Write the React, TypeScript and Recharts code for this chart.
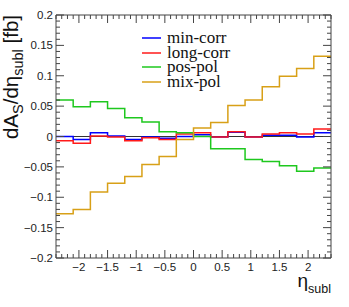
import { ComposedChart, Line, XAxis, YAxis, ReferenceLine, Legend } from "recharts";

// bin edges in eta_subl, 16 bins of 0.3
const binEdges = [-2.4, -2.1, -1.8, -1.5, -1.2, -0.9, -0.6, -0.3, 0, 0.3, 0.6, 0.9, 1.2, 1.5, 1.8, 2.1, 2.4];

// bin contents, dA_S/deta [fb]
const minCorr = [0.0, -0.005, 0.006, 0.001, -0.005, -0.001, -0.003, 0.0, 0.003, -0.001, 0.007, -0.001, 0.002, 0.002, -0.001, 0.006];
const longCorr = [-0.007, -0.011, 0.001, -0.001, -0.007, -0.002, -0.005, 0.004, 0.006, -0.001, 0.008, -0.001, 0.004, 0.006, 0.004, 0.0125];
const posPol = [0.06, 0.049, 0.057, 0.046, 0.031, 0.024, 0.008, 0.006, 0.0, -0.02, -0.02, -0.038, -0.041, -0.048, -0.057, -0.052];
const mixPol = [-0.127, -0.12, -0.0915, -0.077, -0.066, -0.046, -0.033, -0.005, 0.014, 0.023, 0.051, 0.06, 0.082, 0.099, 0.112, 0.132];

const seriesNames = ["min-corr", "long-corr", "pos-pol", "mix-pol"];
const seriesKeys = ["minCorr", "longCorr", "posPol", "mixPol"];
const seriesColors = ["#0000ff", "#ff1a1a", "#1ec81e", "#d8a017"];

const xMajorTicks = [-2, -1.5, -1, -0.5, 0, 0.5, 1, 1.5, 2];
const yMajorTicks = [-0.2, -0.15, -0.1, -0.05, 0, 0.05, 0.1, 0.15, 0.2];

// minor tick grids (0.1 on x, 0.01 on y)
const xTicks: number[] = [];
for (let i = 0; i <= 48; i++) xTicks.push(Math.round((-2.4 + i * 0.1) * 10) / 10);
const yTicks: number[] = [];
for (let i = 0; i <= 40; i++) yTicks.push(Math.round((-0.2 + i * 0.01) * 100) / 100);

// last edge repeats the last bin so stepAfter closes the histogram
const data = binEdges.map((x, i) => {
  const j = Math.min(i, 15);
  return { x, minCorr: minCorr[j], longCorr: longCorr[j], posPol: posPol[j], mixPol: mixPol[j] };
});

const frame = "#444";
const labelFont = "'Liberation Sans', Arial, sans-serif";

const isIn = (list: number[], v: number) => list.some((t) => Math.abs(t - v) < 1e-6);
const fmt = (v: number) => {
  const r = Math.round(v * 1000) / 1000;
  if (r === 0) return "0";
  return (r < 0 ? "\u2212" : "") + String(Math.abs(r));
};

function BottomTick(props: any) {
  const { x, y, payload } = props;
  const major = isIn(xMajorTicks, payload.value);
  return (
    <g>
      <line x1={x} y1={y} x2={x} y2={y - (major ? 8 : 4)} stroke={frame} />
      {major && (
        <text x={x} y={y + 13} textAnchor="middle" fontSize={11.5} fontFamily={labelFont} fill="#222">
          {fmt(payload.value)}
        </text>
      )}
    </g>
  );
}

function TopTick(props: any) {
  const { x, y, payload } = props;
  const major = isIn(xMajorTicks, payload.value);
  return <line x1={x} y1={y} x2={x} y2={y + (major ? 8 : 4)} stroke={frame} />;
}

function LeftTick(props: any) {
  const { x, y, payload } = props;
  const major = isIn(yMajorTicks, payload.value);
  return (
    <g>
      <line x1={x} y1={y} x2={x + (major ? 8 : 4)} y2={y} stroke={frame} />
      {major && (
        <text x={x - 3} y={y + 4} textAnchor="end" fontSize={11.5} fontFamily={labelFont} fill="#222">
          {fmt(payload.value)}
        </text>
      )}
    </g>
  );
}

function RightTick(props: any) {
  const { x, y, payload } = props;
  const major = isIn(yMajorTicks, payload.value);
  return <line x1={x} y1={y} x2={x - (major ? 8 : 4)} y2={y} stroke={frame} />;
}

function YTitle(props: any) {
  const top = props.viewBox ? props.viewBox.y : 15;
  return (
    <text transform={`translate(18,${top}) rotate(-90)`} textAnchor="end" fontSize={20.5} fontFamily={labelFont} fill="#111">
      dA<tspan dy={5} fontSize={14.5}>S</tspan>
      <tspan dy={-5}>/d{"\u03b7"}</tspan>
      <tspan dy={5} fontSize={14.5}>subl</tspan>
      <tspan dy={-5}> [fb]</tspan>
    </text>
  );
}

function XTitle(props: any) {
  const vb = props.viewBox;
  const right = vb ? vb.x + vb.width : 331;
  return (
    <text x={right} y={287} textAnchor="end" fontSize={19} fontFamily={labelFont} fill="#111">
      {"\u03b7"}
      <tspan dy={6} fontSize={12.5}>subl</tspan>
    </text>
  );
}

function LegendBox() {
  return (
    <div style={{ fontFamily: "'Liberation Serif', 'Times New Roman', serif", fontSize: 17, color: "#111" }}>
      {seriesNames.map((name, i) => (
        <div key={name} style={{ display: "flex", alignItems: "center", height: 14.5 }}>
          <svg width={22} height={4} style={{ marginRight: 3 }}>
            <line x1={0} y1={2} x2={19} y2={2} stroke={seriesColors[i]} strokeWidth={1.5} />
          </svg>
          <span style={{ lineHeight: "14.5px" }}>{name}</span>
        </div>
      ))}
    </div>
  );
}

export default function App() {
  return (
    <div style={{ position: "absolute", left: 0, top: 0, width: 349, height: 307, background: "#fff" }}>
      <ComposedChart width={349} height={307} data={data} margin={{ top: 14, right: 17, bottom: 48, left: 55 }}>
        <XAxis
          xAxisId="b"
          type="number"
          dataKey="x"
          domain={[-2.4, 2.4]}
          allowDataOverflow
          ticks={xTicks}
          interval={0}
          height={1}
          tickSize={0}
          tickMargin={0}
          tick={<BottomTick />}
          axisLine={{ stroke: frame }}
          label={<XTitle />}
        />
        <XAxis
          xAxisId="t"
          orientation="top"
          type="number"
          dataKey="x"
          domain={[-2.4, 2.4]}
          allowDataOverflow
          ticks={xTicks}
          interval={0}
          height={1}
          tickSize={0}
          tickMargin={0}
          tick={<TopTick />}
          axisLine={{ stroke: frame }}
        />
        <YAxis
          yAxisId="l"
          type="number"
          domain={[-0.2, 0.2]}
          allowDataOverflow
          ticks={yTicks}
          interval={0}
          width={1}
          tickSize={0}
          tickMargin={0}
          tick={<LeftTick />}
          axisLine={{ stroke: frame }}
          label={<YTitle />}
        />
        <YAxis
          yAxisId="r"
          orientation="right"
          type="number"
          domain={[-0.2, 0.2]}
          allowDataOverflow
          ticks={yTicks}
          interval={0}
          width={1}
          tickSize={0}
          tickMargin={0}
          tick={<RightTick />}
          axisLine={{ stroke: frame }}
        />
        <ReferenceLine xAxisId="b" yAxisId="l" y={0} stroke="#333" strokeWidth={1} />
        {seriesKeys.map((key, i) => (
          <Line
            key={key}
            xAxisId="b"
            yAxisId="l"
            type="stepAfter"
            dataKey={key}
            name={seriesNames[i]}
            stroke={seriesColors[i]}
            strokeWidth={1.5}
            dot={false}
            isAnimationActive={false}
          />
        ))}
        <Legend
          layout="vertical"
          align="center"
          verticalAlign="middle"
          content={<LegendBox />}
          wrapperStyle={{ position: "absolute", left: 142, top: 31, width: 110 }}
        />
      </ComposedChart>
    </div>
  );
}
